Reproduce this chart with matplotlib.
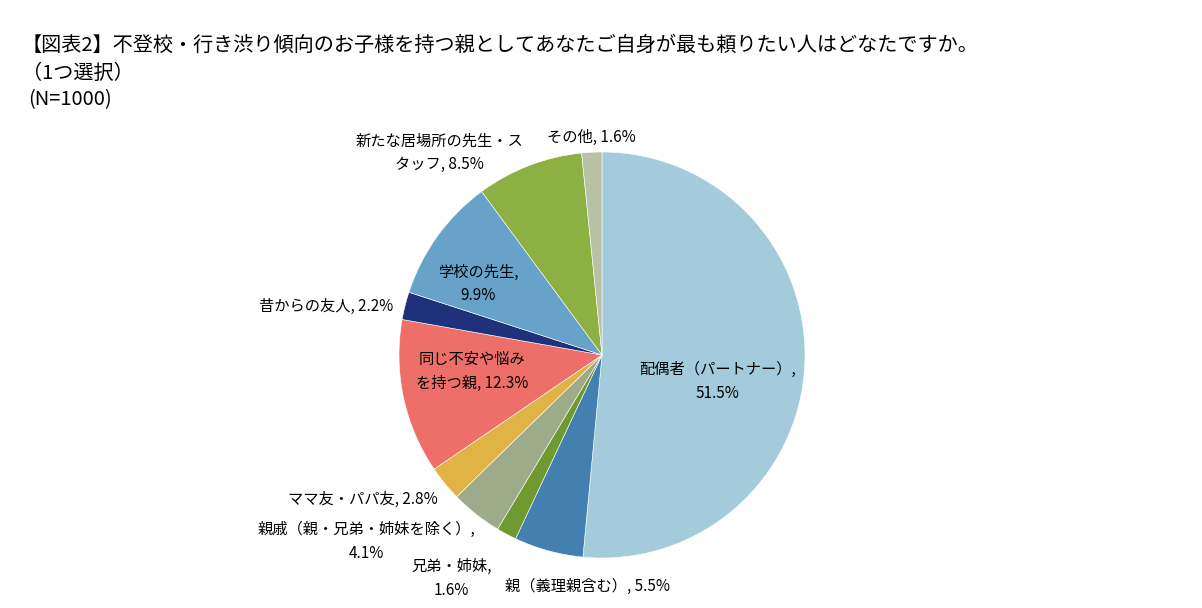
import matplotlib
matplotlib.use("Agg")
import matplotlib.pyplot as plt

plt.rcParams['font.family'] = ['Noto Sans CJK JP', 'DejaVu Sans']

# データ（N=1000、単位 %）
labels = [
    "配偶者（パートナー）,\n51.5%",
    "親（義理親含む）, 5.5%",
    "兄弟・姉妹,\n1.6%",
    "親戚（親・兄弟・姉妹を除く）,\n4.1%",
    "ママ友・パパ友, 2.8%",
    "同じ不安や悩み\nを持つ親, 12.3%",
    "昔からの友人, 2.2%",
    "学校の先生,\n9.9%",
    "新たな居場所の先生・ス\nタッフ, 8.5%",
    "その他, 1.6%",
]
values = [51.5, 5.5, 1.6, 4.1, 2.8, 12.3, 2.2, 9.9, 8.5, 1.6]
colors = ['#A3CBDB', '#4380B0', '#6E9A2F', '#9DAB8A', '#DFB444',
          '#EE6F6A', '#1F317A', '#67A3C9', '#8DB043', '#B7C1A6']

# ラベル位置（円の半径=1 の座標）
label_pos = [(0.57, -0.13), (-0.07, -1.14), (-0.74, -1.10), (-1.16, -0.92),
             (-1.18, -0.71), (-0.64, -0.08), (-1.36, 0.24), (-0.61, 0.35),
             (-0.80, 0.995), (-0.05, 1.07)]

fig = plt.figure(figsize=(12.02, 6.08), dpi=100)

cx, cy, r = 602, 355, 203
ax = fig.add_axes([(cx - r) / 1202, (608 - cy - r) / 608, 2 * r / 1202, 2 * r / 608])
ax.pie(values, colors=colors, startangle=90, counterclock=False,
       wedgeprops=dict(edgecolor='white', linewidth=0.4))
ax.set_xlim(-1, 1)
ax.set_ylim(-1, 1)
ax.set_aspect('auto')
ax.axis('off')

# 1行ずつ配置（行間 約17pt）
step = 17
for lab, (x, y) in zip(labels, label_pos):
    lines = lab.split("\n")
    n = len(lines)
    for i, line in enumerate(lines):
        dy = ((n - 1) / 2 - i) * step
        ax.annotate(line, (x, y), xytext=(0, dy), textcoords='offset points',
                    ha='center', va='center', fontsize=11, annotation_clip=False)

fig.text(0.018, 1 - 45 / 608, "【図表2】不登校・行き渋り傾向のお子様を持つ親としてあなたご自身が最も頼りたい人はどなたですか。",
         fontsize=14.5, va='center', ha='left')
fig.text(0.018, 1 - 73 / 608, "（1つ選択）", fontsize=14.5, va='center', ha='left')
fig.text(0.023, 1 - 100 / 608, "(N=1000)", fontsize=14.5, va='center', ha='left')

fig.savefig('out.png', dpi=100)
